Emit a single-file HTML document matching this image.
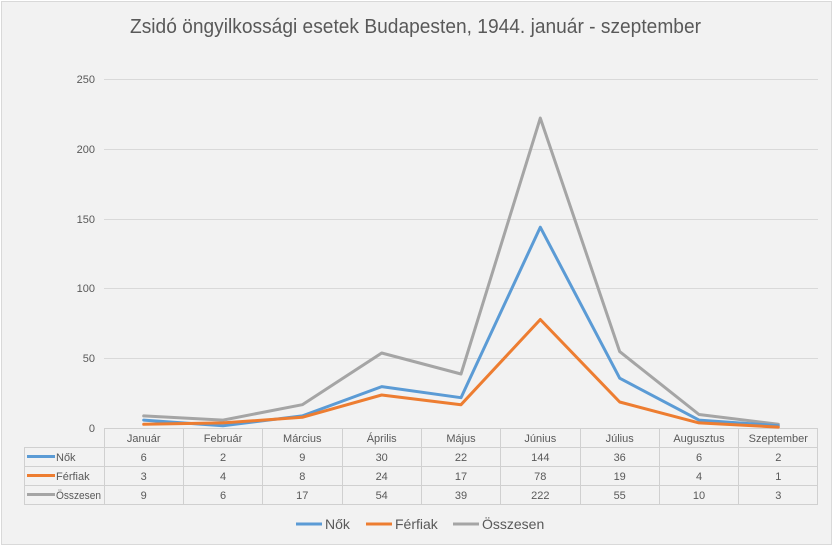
<!DOCTYPE html>
<html><head><meta charset="utf-8"><style>
html,body{margin:0;padding:0;background:#fff;}
svg{display:block;font-family:"Liberation Sans",sans-serif;}
</style></head><body>
<svg width="834" height="546" viewBox="0 0 834 546" xmlns="http://www.w3.org/2000/svg">
<rect x="0" y="0" width="834" height="546" fill="#fff"/>
<rect x="1.5" y="1.5" width="830" height="543" fill="#f2f2f2" stroke="#d9d9d9"/>
<text x="130" y="33" font-size="20" fill="#595959" textLength="571" lengthAdjust="spacingAndGlyphs">Zsidó öngyilkossági esetek Budapesten, 1944. január - szeptember</text>
<g stroke="#d9d9d9" stroke-width="1">
<line x1="104" y1="79.5" x2="818" y2="79.5"/>
<line x1="104" y1="149.5" x2="818" y2="149.5"/>
<line x1="104" y1="219.5" x2="818" y2="219.5"/>
<line x1="104" y1="288.5" x2="818" y2="288.5"/>
<line x1="104" y1="358.5" x2="818" y2="358.5"/>
</g>
<g font-size="11" fill="#595959" text-anchor="end">
<text x="95" y="83">250</text><text x="95" y="153">200</text><text x="95" y="223">150</text>
<text x="95" y="292">100</text><text x="95" y="362">50</text><text x="95" y="432">0</text>
</g>
<g stroke="#d0d0d0" stroke-width="1" fill="none">
<line x1="104" y1="428.5" x2="818" y2="428.5"/>
<line x1="24" y1="447.5" x2="818" y2="447.5"/>
<line x1="24" y1="466.5" x2="818" y2="466.5"/>
<line x1="24" y1="485.5" x2="818" y2="485.5"/>
<line x1="24" y1="504.5" x2="818" y2="504.5"/>
<line x1="24.5" y1="447" x2="24.5" y2="505"/>
<line x1="104.5" y1="428" x2="104.5" y2="505"/>
<line x1="183.5" y1="428" x2="183.5" y2="505"/>
<line x1="262.5" y1="428" x2="262.5" y2="505"/>
<line x1="342.5" y1="428" x2="342.5" y2="505"/>
<line x1="421.5" y1="428" x2="421.5" y2="505"/>
<line x1="500.5" y1="428" x2="500.5" y2="505"/>
<line x1="580.5" y1="428" x2="580.5" y2="505"/>
<line x1="659.5" y1="428" x2="659.5" y2="505"/>
<line x1="738.5" y1="428" x2="738.5" y2="505"/>
<line x1="817.5" y1="428" x2="817.5" y2="505"/>
</g>
<g font-size="11" fill="#595959" text-anchor="middle">
<text x="143.7" y="442">Január</text><text x="223" y="442">Február</text><text x="302.3" y="442">Március</text><text x="381.7" y="442">Április</text><text x="461" y="442">Május</text><text x="540.3" y="442">Június</text><text x="619.7" y="442">Július</text><text x="699" y="442">Augusztus</text><text x="778.3" y="442">Szeptember</text>
<text x="143.7" y="461">6</text><text x="223" y="461">2</text><text x="302.3" y="461">9</text><text x="381.7" y="461">30</text><text x="461" y="461">22</text><text x="540.3" y="461">144</text><text x="619.7" y="461">36</text><text x="699" y="461">6</text><text x="778.3" y="461">2</text>
<text x="143.7" y="480">3</text><text x="223" y="480">4</text><text x="302.3" y="480">8</text><text x="381.7" y="480">24</text><text x="461" y="480">17</text><text x="540.3" y="480">78</text><text x="619.7" y="480">19</text><text x="699" y="480">4</text><text x="778.3" y="480">1</text>
<text x="143.7" y="499">9</text><text x="223" y="499">6</text><text x="302.3" y="499">17</text><text x="381.7" y="499">54</text><text x="461" y="499">39</text><text x="540.3" y="499">222</text><text x="619.7" y="499">55</text><text x="699" y="499">10</text><text x="778.3" y="499">3</text>
</g>
<g font-size="11" fill="#595959">
<line x1="27" y1="456.5" x2="55" y2="456.5" stroke="#5b9bd5" stroke-width="3"/><text x="56" y="461">Nők</text>
<line x1="27" y1="475.5" x2="55" y2="475.5" stroke="#ed7d31" stroke-width="3"/><text x="56" y="480">Férfiak</text>
<line x1="27" y1="494.5" x2="55" y2="494.5" stroke="#a5a5a5" stroke-width="3"/><text x="56" y="499" textLength="45" lengthAdjust="spacingAndGlyphs">Összesen</text>
</g>
<g fill="none" stroke-width="3" stroke-linejoin="round" stroke-linecap="round">
<polyline stroke="#a5a5a5" points="143.7,415.9 223,420.1 302.3,404.7 381.7,353 461,374 540.3,118.1 619.7,351.6 699,414.5 778.3,424.3"/>
<polyline stroke="#5b9bd5" points="143.7,420.1 223,425.7 302.3,415.9 381.7,386.6 461,397.7 540.3,227.2 619.7,378.2 699,420.1 778.3,425.7"/>
<polyline stroke="#ed7d31" points="143.7,424.3 223,422.9 302.3,417.3 381.7,395 461,404.7 540.3,319.5 619.7,402 699,422.9 778.3,427.1"/>
</g>
<g font-size="14" fill="#595959">
<line x1="296" y1="524" x2="322" y2="524" stroke="#5b9bd5" stroke-width="3"/><text x="325" y="529">Nők</text>
<line x1="366" y1="524" x2="392" y2="524" stroke="#ed7d31" stroke-width="3"/><text x="395" y="529">Férfiak</text>
<line x1="453" y1="524" x2="479" y2="524" stroke="#a5a5a5" stroke-width="3"/><text x="482" y="529">Összesen</text>
</g>
</svg>
</body></html>
